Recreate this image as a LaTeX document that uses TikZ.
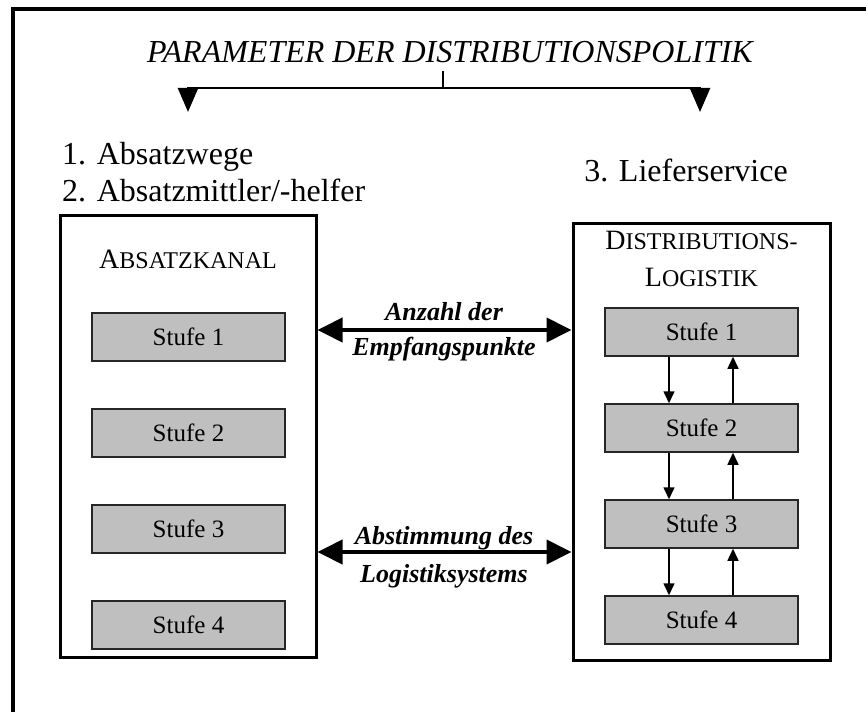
\documentclass[tikz,border=0pt]{standalone}
\usepackage{fontspec}
\setmainfont{Liberation Serif}
\usetikzlibrary{arrows.meta,positioning}

% Kapitaelchen von Hand
\newcommand{\Kapit}[2]{{\fontsize{28}{32}\selectfont #1}{\fontsize{24}{28}\selectfont #2}}

\tikzset{
  stufe/.style={draw=black!85, fill=black!25, line width=1.5pt, minimum width=193pt, minimum height=48pt, inner sep=0pt, font=\fontsize{25}{30}\selectfont},
  kasten/.style={draw, line width=3pt, inner sep=0pt},
  gross/.style={font=\fontsize{32}{38}\selectfont, inner sep=0pt},
  etikett/.style={font=\fontsize{26}{30}\selectfont\bfseries\itshape, inner sep=0pt},
  zweig/.style={line width=2.5pt, -{Triangle[width=20pt,length=24pt]}},
  dickpfeil/.style={line width=4pt, {Triangle[width=24pt,length=25pt]}-{Triangle[width=24pt,length=25pt]}},
  fluss/.style={line width=1.5pt, -{Triangle[width=11pt,length=12pt]}}
}

\begin{document}
\begin{tikzpicture}[x=1pt,y=-1pt]
\useasboundingbox (0,0) rectangle (866,711);
\draw[line width=4pt] (13,720) |- (875,9);

% Ueberschrift
\node[gross, anchor=base, font=\fontsize{32}{38}\selectfont\itshape] (titel) at (450,63) {PARAMETER DER DISTRIBUTIONSPOLITIK};
\coordinate (split) at (443,88);
\coordinate (zielL) at (188,112);
\coordinate (zielR) at (700,112);
\draw[line width=2.5pt] (split |- 0,71) -- (split);
\draw[zweig] (split) -| (zielL);
\draw[zweig] (split) -| (zielR);

\node[gross, anchor=base west] (wege) at (62,165) {1. Absatzwege};
\node[gross, anchor=base west] (mittler) at (62,202) {2. Absatzmittler/-helfer};
\node[gross, anchor=base] (service) at (686,182) {3. Lieferservice};

% Absatzkanal
\node[kasten, minimum width=256pt, minimum height=441pt] (kanal) at (188,436.5) {};
\node[anchor=base, inner sep=0pt] (kanaltitel) at (188,268) {\Kapit{A}{BSATZKANAL}};
\foreach \i in {1,...,4}
  \node[stufe] (l\i) at (188.5,241+96*\i) {Stufe \i};

% Distributionslogistik
\node[kasten, minimum width=257pt, minimum height=437pt] (logistik) at (701.5,441.5) {};
\node[anchor=base, inner sep=0pt] (logtitel1) at (701.5,249) {\Kapit{D}{ISTRIBUTIONS-}};
\node[anchor=base, inner sep=0pt] (logtitel2) at (701.5,286) {\Kapit{L}{OGISTIK}};
\foreach \i in {1,...,4}
  \node[stufe] (r\i) at (701.5,236+96*\i) {Stufe \i};
\foreach \a/\b in {r1/r2,r2/r3,r3/r4}{
  \draw[fluss] ([xshift=-32.5pt]\a.south) -- ([xshift=-32.5pt]\b.north);
  \draw[fluss] ([xshift=31.5pt]\b.north) -- ([xshift=31.5pt]\a.south);
}

% Verbindungen
\coordinate (h1) at (0,330);
\coordinate (h2) at (0,552);
\draw[dickpfeil] (kanal.east |- h1) -- (logistik.west |- h1);
\draw[dickpfeil] (kanal.east |- h2) -- (logistik.west |- h2);
\node[etikett, anchor=base] (anzahl) at (444,320) {Anzahl der};
\node[etikett, anchor=base] (empfang) at (444,355) {Empfangspunkte};
\node[etikett, anchor=base] (abstimm) at (444,544) {Abstimmung des};
\node[etikett, anchor=base] (logsys) at (444,582) {Logistiksystems};
\end{tikzpicture}
\end{document}
